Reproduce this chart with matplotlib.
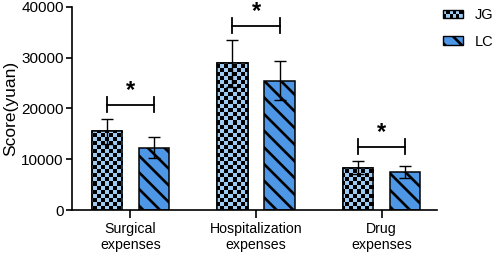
import numpy as np
import matplotlib
matplotlib.use("Agg")
import matplotlib.pyplot as plt
from matplotlib.colors import ListedColormap
from matplotlib.patches import Rectangle
from matplotlib.legend_handler import HandlerBase

# data
categories = ["Surgical\nexpenses", "Hospitalization\nexpenses", "Drug\nexpenses"]
groups = ["JG", "LC"]
jg_mean = [15500, 28900, 8350]
jg_err = [2450, 4600, 1350]
lc_mean = [12300, 25500, 7550]
lc_err = [2150, 3900, 1200]
sig_marks = ["*", "*", "*"]

LIGHT = "#9ecbf2"
BLUE = "#4d97e6"

plt.rcParams["font.family"] = ["Liberation Sans", "DejaVu Sans"]
plt.rcParams["hatch.linewidth"] = 1.9
plt.rcParams["font.size"] = 10

fig = plt.figure(figsize=(4.97, 2.54), dpi=100)
ax = fig.add_axes([72 / 497, 44 / 254, 365 / 497, 203 / 254])

x = np.arange(len(categories))
w = 0.245
off = 0.188
xlim = (-0.466, 2.442)
ylim = (0, 40000)

bars_jg = ax.bar(x - off, jg_mean, w, color=LIGHT, edgecolor="black", linewidth=1.1, zorder=2)
bars_lc = ax.bar(x + off, lc_mean, w, color=BLUE, edgecolor="black", linewidth=1.1,
                 hatch="\\\\", zorder=2)

# checkerboard fill for JG bars, clipped to each bar
cell = 4.0
nx = int(365 / cell)
ny = int(203 / cell)
checker = (np.add.outer(np.arange(ny), np.arange(nx)) % 2).astype(float)
cmap = ListedColormap([LIGHT, "black"])
for b in bars_jg:
    im = ax.imshow(checker, cmap=cmap, extent=(*xlim, *ylim), origin="lower",
                   aspect="auto", interpolation="nearest", zorder=2.5)
    im.set_clip_path(b)
    ax.add_patch(Rectangle(b.get_xy(), b.get_width(), b.get_height(), fill=False,
                           edgecolor="black", linewidth=1.1, zorder=2.6))

ax.errorbar(x - off, jg_mean, yerr=jg_err, fmt="none", ecolor="black", elinewidth=1.0,
            capsize=4.5, capthick=1.0, zorder=3)
ax.errorbar(x + off, lc_mean, yerr=lc_err, fmt="none", ecolor="black", elinewidth=1.0,
            capsize=4.5, capthick=1.0, zorder=3)

# significance brackets
for i, m in enumerate(sig_marks):
    top = max(jg_mean[i] + jg_err[i], lc_mean[i] + lc_err[i]) + 2800
    x0, x1 = x[i] - off, x[i] + off
    ax.plot([x0, x1], [top, top], color="black", lw=1.3, zorder=3, clip_on=False)
    for xe in (x0, x1):
        ax.plot([xe, xe], [top - 1500, top + 1500], color="black", lw=1.3, zorder=3, clip_on=False)
    ax.text((x0 + x1) / 2, top + 500, m, ha="center", va="bottom", fontsize=17,
            fontweight="bold", clip_on=False)

ax.set_xlim(*xlim)
ax.set_ylim(*ylim)
ax.set_yticks([0, 10000, 20000, 30000, 40000])
ax.set_xticks(x)
ax.set_xticklabels(categories, fontsize=10.2, linespacing=1.15)
ax.set_ylabel("Score(yuan)", fontsize=12.5, labelpad=2)
for s in ["top", "right"]:
    ax.spines[s].set_visible(False)
for s in ["left", "bottom"]:
    ax.spines[s].set_linewidth(1.2)
ax.tick_params(axis="y", length=4, width=1.2, labelsize=11, pad=2)
ax.tick_params(axis="x", length=6, width=1.2, pad=3)


class CheckerHandler(HandlerBase):
    def create_artists(self, legend, orig_handle, xdescent, ydescent, width, height, fontsize, trans):
        arts = [Rectangle((-xdescent, -ydescent), width, height, facecolor=LIGHT,
                          edgecolor="black", lw=1.0, transform=trans)]
        n, m = 6, 2
        cw, ch = width / n, height / m
        for i in range(n):
            for j in range(m):
                if (i + j) % 2 == 0:
                    arts.append(Rectangle((-xdescent + i * cw, -ydescent + j * ch), cw, ch,
                                          facecolor="black", lw=0, transform=trans))
        return arts


h_jg = Rectangle((0, 0), 1, 1, facecolor=LIGHT)
h_lc = Rectangle((0, 0), 1, 1, facecolor=BLUE, edgecolor="black", hatch="\\\\")
fig.legend([h_jg, h_lc], groups, loc="upper left", bbox_to_anchor=(443 / 497, 0.968),
           frameon=False, borderpad=0, borderaxespad=0, handlelength=1.35, handleheight=0.5,
           handletextpad=0.85, labelspacing=0.85, fontsize=10.5,
           handler_map={h_jg: CheckerHandler()})

fig.savefig("out.png", dpi=100)
